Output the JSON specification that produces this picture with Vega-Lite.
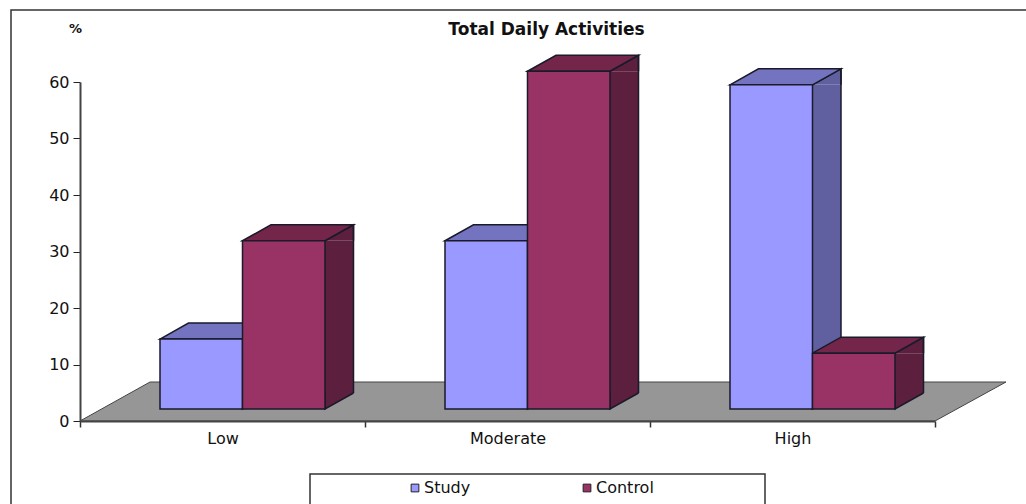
{
  "$schema": "https://vega.github.io/schema/vega-lite/v6.json",
  "width": 855,
  "height": 339,
  "autosize": {"type": "none"},
  "padding": {"left": 80, "top": 82, "right": 91, "bottom": 83},
  "background": "white",
  "view": {"stroke": null},
  "title": {"text": "Total Daily Activities", "font": "DejaVu Sans", "fontSize": 17, "fontWeight": "bold", "color": "#111111", "anchor": "middle", "frame": "group", "dx": 39, "offset": -32},
  "config": {"font": "DejaVu Sans"},
  "resolve": {"scale": {"xOffset": "independent"}},
  "layer": [
    {
      "data": {"values": [{"part": "frame"}]},
      "mark": {"type": "point", "shape": "M-211.5,100 L-211.5,-411 L830,-411", "size": 4, "filled": false, "fill": "transparent", "stroke": "#333333", "strokeWidth": 1.5, "opacity": 1},
      "encoding": {"x": {"datum": "Low", "type": "nominal"}, "y": {"datum": 0, "type": "quantitative"}}
    },
    {
      "data": {"values": [{"part": "floor"}]},
      "mark": {"type": "point", "shape": "M-142.5,0 L-72.5,-39 L783.5,-39 L712.5,0 Z", "size": 4, "filled": true, "fill": "#969696", "stroke": "#444444", "strokeWidth": 1, "opacity": 1},
      "encoding": {"x": {"datum": "Low", "type": "nominal"}, "y": {"datum": 0, "type": "quantitative"}}
    },
    {
      "data": {"values": [{"part": "legend box"}]},
      "mark": {"type": "point", "shape": "M87.5,90 L87.5,53 L542.5,53 L542.5,90", "size": 4, "filled": false, "fill": "white", "stroke": "#333333", "strokeWidth": 1.5, "opacity": 1},
      "encoding": {"x": {"datum": "Low", "type": "nominal"}, "y": {"datum": 0, "type": "quantitative"}}
    },
    {
      "data": {"name": "bars", "values": [
        {"level": "Low", "series": "Study", "percent": 14.5},
        {"level": "Low", "series": "Control", "percent": 31.9},
        {"level": "Moderate", "series": "Study", "percent": 31.9},
        {"level": "Moderate", "series": "Control", "percent": 61.9},
        {"level": "High", "series": "Study", "percent": 59.5},
        {"level": "High", "series": "Control", "percent": 12.0}
      ]},
      "encoding": {
        "x": {"field": "level", "type": "nominal", "sort": ["Low", "Moderate", "High"],
          "scale": {"domain": ["Low", "Moderate", "High"], "paddingInner": 0, "paddingOuter": 0},
          "axis": {"title": null, "labelAngle": 0, "labelAlign": "center", "labelBaseline": "top", "labelFont": "DejaVu Sans", "labelFontSize": 16, "labelColor": "#111111", "labelPadding": 3, "tickBand": "extent", "tickSize": 6, "tickColor": "#333333", "tickWidth": 1.5, "domainColor": "#444444", "domainWidth": 2, "grid": false, "zindex": 1}},
        "y": {"field": "percent", "type": "quantitative", "stack": null,
          "scale": {"domain": [0, 60], "nice": false, "zero": true},
          "axis": {"title": "%", "titleAngle": 0, "titleFont": "DejaVu Sans", "titleFontSize": 13, "titleFontWeight": "bold", "titleColor": "#111111", "titleX": -5, "titleY": -54, "titleAlign": "center", "titleBaseline": "middle", "values": [0, 10, 20, 30, 40, 50, 60], "labelFont": "DejaVu Sans", "labelFontSize": 16, "labelColor": "#111111", "labelPadding": 4, "tickSize": 7, "tickColor": "#222222", "tickWidth": 1, "domainColor": "#444444", "domainWidth": 2, "grid": false}}
      },
      "resolve": {"scale": {"xOffset": "independent"}},
      "layer": [
        {
          "mark": {"type": "bar", "y2Offset": -16, "opacity": 1},
          "encoding": {
            "xOffset": {"field": "series", "type": "nominal", "sort": ["Study", "Control"],
              "scale": {"domain": ["Study", "Control"], "range": [162.5, 273.5], "paddingInner": 0.6545, "paddingOuter": 0}},
            "y2": {"datum": 2.12},
            "color": {"condition": {"test": "datum.series === 'Study'", "value": "#6060A0"}, "value": "#5C1F3D"}
          }
        },
        {
          "mark": {"type": "point", "shape": "M69.75,0 L69.75,-16 L41.25,0", "size": 4, "filled": true, "stroke": "#1a1a2a", "strokeWidth": 1.5, "opacity": 1},
          "encoding": {
            "xOffset": {"field": "series", "type": "nominal", "sort": ["Study", "Control"],
              "scale": {"domain": ["Study", "Control"], "range": [121.25, 203.75], "padding": 0}},
            "color": {"condition": {"test": "datum.series === 'Study'", "value": "#6060A0"}, "value": "#5C1F3D"}
          }
        },
        {
          "mark": {"type": "point", "shape": "M69.75,-16 L41.25,0 L41.25,-16", "size": 4, "filled": true, "stroke": "#1a1a2a", "strokeWidth": 1.5, "opacity": 1},
          "encoding": {
            "xOffset": {"field": "series", "type": "nominal", "sort": ["Study", "Control"],
              "scale": {"domain": ["Study", "Control"], "range": [121.25, 203.75], "padding": 0}},
            "y": {"datum": 2.12, "type": "quantitative"},
            "color": {"condition": {"test": "datum.series === 'Study'", "value": "#6060A0"}, "value": "#5C1F3D"}
          }
        },
        {
          "mark": {"type": "bar", "yOffset": -16, "y2Offset": -16, "color": "#1a1a2a", "opacity": 1},
          "encoding": {
            "xOffset": {"field": "series", "type": "nominal", "sort": ["Study", "Control"],
              "scale": {"domain": ["Study", "Control"], "range": [190.25, 274.25], "paddingInner": 0.9818, "paddingOuter": 0}},
            "y2": {"datum": 2.12}
          }
        },
        {
          "mark": {"type": "point", "shape": "M-41.25,0 L-12.75,-16 L69.75,-16 L41.25,0 Z", "size": 4, "filled": true, "stroke": "#1a1a2a", "strokeWidth": 1.5, "opacity": 1},
          "encoding": {
            "xOffset": {"field": "series", "type": "nominal", "sort": ["Study", "Control"],
              "scale": {"domain": ["Study", "Control"], "range": [121.25, 203.75], "padding": 0}},
            "color": {"condition": {"test": "datum.series === 'Study'", "value": "#7373BF"}, "value": "#732649"}
          }
        },
        {
          "mark": {"type": "bar", "stroke": "#1a1a2a", "strokeWidth": 1.5, "opacity": 1},
          "encoding": {
            "xOffset": {"field": "series", "type": "nominal", "sort": ["Study", "Control"],
              "scale": {"domain": ["Study", "Control"], "range": [80, 245], "paddingInner": 0, "paddingOuter": 0}},
            "y2": {"datum": 2.12},
            "color": {"field": "series", "type": "nominal", "sort": ["Study", "Control"],
              "scale": {"domain": ["Study", "Control"], "range": ["#9999FF", "#993366"]},
              "legend": {"title": null, "orient": "none", "legendX": 327, "legendY": 398, "direction": "horizontal", "columns": 2, "columnPadding": 108, "symbolType": "square", "symbolSize": 60, "symbolStrokeColor": "#222222", "symbolStrokeWidth": 1, "labelFont": "DejaVu Sans", "labelFontSize": 16, "labelColor": "#111111", "labelOffset": 1}}
          }
        }
      ]
    }
  ]
}
